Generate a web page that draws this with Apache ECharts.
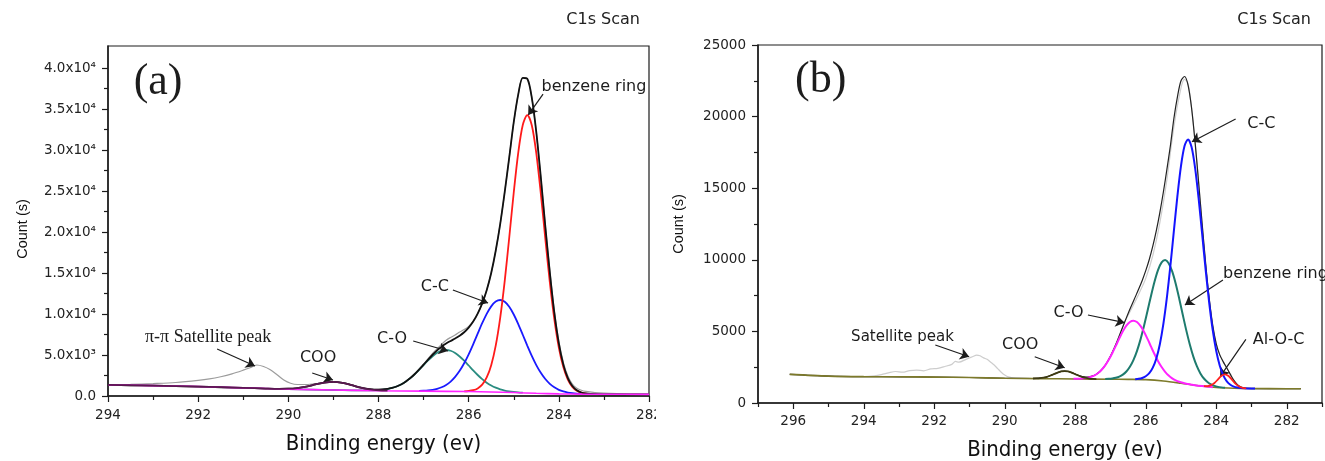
<!DOCTYPE html>
<html><head><meta charset="utf-8">
<script src="https://cdn.jsdelivr.net/npm/echarts@6/dist/echarts.min.js"></script>
<style>html,body{margin:0;padding:0;background:#fff;overflow:hidden}
#a{position:absolute;left:0;top:0;width:656px;height:461px}
#b{position:absolute;left:656px;top:0;width:669px;height:461px}</style>
</head><body><div id="a"></div><div id="b"></div>
<script>
// ---------------- Panel (a) data: [binding energy, count] ----------------
const aYTicks = [0,5000,10000,15000,20000,25000,30000,35000,40000];
const aYTickLabels = ['0.0','5.0x10³','1.0x10⁴','1.5x10⁴','2.0x10⁴','2.5x10⁴','3.0x10⁴','3.5x10⁴','4.0x10⁴'];
const aYMinor = [2500,7500,12500,17500,22500,27500,32500,37500];

const aRaw = [[294,1350],[293.5,1420],[293,1520],[292.5,1650],[292,1900],[291.75,2080],[291.5,2350],[291.25,2700],[291,3150],[290.85,3450],[290.7,3780],[290.55,3600],[290.4,3200],[290.25,2600],[290.1,1950],[289.95,1550],[289.8,1400],[289.6,1400],[289.4,1500],[289.2,1680],[289,1760],[288.8,1640],[288.6,1370],[288.4,1080],[288.2,880],[288,800],[287.8,870],[287.6,1150],[287.4,1760],[287.2,2700],[287,3900],[286.8,5200],[286.6,6300],[286.5,6800],[286.4,7150],[286.3,7450],[286.2,7800],[286.1,8100],[286,8500],[285.9,9100],[285.8,10054],[285.7,11303],[285.6,12913],[285.5,15008],[285.4,17720],[285.3,21000],[285.2,24900],[285.1,29100],[285,33400],[284.9,36800],[284.8,38800],[284.7,38700],[284.6,36400],[284.5,32200],[284.4,26700],[284.3,20800],[284.2,15300],[284.1,10400],[284,6700],[283.9,4100],[283.8,2450],[283.7,1450],[283.6,960],[283.5,700],[283.4,560],[283.2,420],[283,340],[282.7,280],[282.4,240],[282,210]];
const aBackground = [[294,1350],[293,1270],[292,1150],[291,990],[290,830],[289,730],[288,640],[287,590],[286,540],[285.5,490],[285,420],[284.5,330],[284,260],[283.5,225],[283,210],[282,200]];
const aBenzene = [[286.1,571],[286,611],[285.9,706],[285.8,928],[285.7,1388],[285.6,2259],[285.5,3765],[285.4,6137],[285.3,9564],[285.2,14052],[285.1,19333],[285,24825],[284.9,29695],[284.8,33067],[284.7,34266],[284.6,33031],[284.5,29623],[284.4,24721],[284.3,19201],[284.2,13892],[284.1,9376],[284,5921],[283.9,3528],[283.8,2005],[283.7,1117],[283.6,640],[283.5,401],[283.4,293],[283.3,245]];
const aCC = [[287.1,623],[287,644],[286.9,684],[286.8,756],[286.7,875],[286.6,1064],[286.5,1350],[286.4,1760],[286.3,2326],[286.2,3066],[286.1,3990],[286,5086],[285.9,6311],[285.8,7605],[285.7,8879],[285.6,10025],[285.5,10938],[285.4,11520],[285.3,11712],[285.2,11492],[285.1,10882],[285,9945],[284.9,8771],[284.8,7469],[284.7,6147],[284.6,4894],[284.5,3775],[284.4,2832],[284.3,2073],[284.2,1488],[284.1,1059],[284,754],[283.9,553],[283.8,422],[283.7,338],[283.6,286],[283.5,253]];
const aCO = [[290,830],[289.5,780],[289,730],[288.6,694],[288.4,676],[288.2,684],[288.1,694],[288,719],[287.9,770],[287.8,852],[287.7,977],[287.6,1159],[287.5,1410],[287.4,1739],[287.3,2151],[287.2,2641],[287.1,3190],[287,3770],[286.9,4342],[286.8,4856],[286.7,5265],[286.6,5528],[286.5,5615],[286.4,5518],[286.3,5245],[286.2,4826],[286.1,4302],[286,3720],[285.9,3125],[285.8,2561],[285.7,2056],[285.6,1629],[285.5,1285],[285.4,1015],[285.3,814],[285.2,670],[285.1,569],[285,499],[284.9,446],[284.8,408]];
const aCOO = [[294,1350],[293,1270],[292,1150],[291,990],[290.5,910],[290.2,877],[290,889],[289.8,973],[289.6,1150],[289.4,1405],[289.2,1643],[289,1730],[288.8,1605],[288.6,1329],[288.4,1036],[288.2,821],[288,699],[287.8,647]];
const aEnvelope = [[294,1350],[293.5,1310],[293,1270],[292.5,1215],[292,1150],[291.5,1070],[291,990],[290.5,910],[290.2,877],[290,889],[289.8,973],[289.6,1150],[289.4,1405],[289.2,1643],[289,1730],[288.8,1605],[288.6,1329],[288.4,1036],[288.2,845],[288,778],[287.8,869],[287.7,977],[287.6,1159],[287.5,1411],[287.4,1742],[287.3,2158],[287.2,2655],[287.1,3218],[287,3824],[286.9,4441],[286.8,5032],[286.7,5565],[286.6,6022],[286.5,6400],[286.4,6718],[286.3,7019],[286.2,7351],[286.1,7773],[286,8337],[285.9,9082],[285.8,10054],[285.7,11303],[285.6,12913],[285.5,15008],[285.4,17720],[285.3,21000],[285.2,24900],[285.1,29100],[285,33400],[284.9,36800],[284.8,38800],[284.7,38700],[284.6,36400],[284.5,32200],[284.4,26700],[284.3,20700],[284.2,15092],[284.1,10161],[284,6415],[283.9,3828],[283.8,2181],[283.7,1216],[283.6,694],[283.5,429],[283.4,307],[283.3,252],[283,210],[282.5,205],[282,200]];
const aLabels = [['(a)',292.89,38293,'serif44'],['benzene ring',283.22,37683],['C-C',286.75,13293],['C-O',287.70,6951],['COO',289.34,4634],['π-π Satellite peak',291.78,7195,'serif18']];
const aArrows = [[[284.35,36829],[284.68,34268]],[[286.35,12927],[285.57,11341]],[[287.23,6707],[286.46,5488]],[[289.47,2805],[289.01,1951]],[[291.58,5732],[290.74,3659]]];

// ---------------- Panel (b) data ----------------
const bXTicks = [282,284,286,288,290,292,294,296];
const bXMinor = [281,283,285,287,289,291,293,295,297];
const bYMinor = [2500,7500,12500,17500,22500];
const bRaw = [[296.1,2000],[295,1880],[294,1850],[293.7,1900],[293.5,1980],[293.3,2100],[293.1,2200],[292.9,2150],[292.7,2260],[292.5,2300],[292.3,2250],[292.1,2380],[291.9,2420],[291.7,2550],[291.5,2700],[291.4,2900],[291.3,2850],[291.1,3050],[290.9,3250],[290.8,3350],[290.7,3300],[290.6,3150],[290.5,3050],[290.4,2850],[290.3,2650],[290.2,2400],[290.1,2150],[290,1950],[289.9,1820],[289.7,1740],[289.4,1720],[289.2,1712],[289,1736],[288.8,1832],[288.6,2023],[288.4,2205],[288.3,2232],[288.2,2202],[288,2020],[287.8,1847],[287.6,1827],[287.4,2015],[287.2,2472],[287,3274],[286.8,4388],[286.6,5639],[286.4,6600],[286.2,7600],[286,8700],[285.8,10300],[285.6,12600],[285.4,15600],[285.2,19300],[285,22000],[284.9,22600],[284.8,22300],[284.7,20600],[284.6,18200],[284.5,15400],[284.4,12503],[284.3,9727],[284.2,7310],[284.1,5428],[284,4136],[283.9,3361],[283.8,2873],[283.7,2446],[283.6,1997],[283.5,1577],[283.4,1282],[283.2,1048],[283,1010],[282.5,1005],[282,1000],[281.6,1000]];
const bBackground = [[296.1,2000],[295,1880],[294,1840],[293,1830],[292,1810],[291,1780],[290,1730],[289,1700],[288,1680],[287,1660],[286.5,1650],[286,1630],[285.5,1540],[285,1380],[284.5,1200],[284,1080],[283.5,1030],[283,1010],[282,1000],[281.6,1000]];
const bCC = [[286.3,1663],[286.2,1688],[286.1,1746],[286,1866],[285.9,2079],[285.8,2468],[285.7,3113],[285.6,4106],[285.5,5521],[285.4,7368],[285.3,9605],[285.2,12068],[285.1,14495],[285,16561],[284.9,17943],[284.8,18408],[284.7,17871],[284.6,16417],[284.5,14283],[284.4,11800],[284.3,9281],[284.2,6988],[284.1,5085],[284,3628],[283.9,2607],[283.8,1934],[283.7,1517],[283.6,1276],[283.5,1142],[283.4,1076],[283.3,1043],[283.1,1020],[282.9,1010]];
const bBenzene = [[287.15,1675],[287.05,1687],[286.95,1711],[286.85,1757],[286.75,1839],[286.65,1978],[286.55,2198],[286.45,2528],[286.35,2997],[286.25,3627],[286.15,4427],[286.05,5377],[285.95,6425],[285.85,7493],[285.75,8486],[285.65,9295],[285.55,9820],[285.45,9984],[285.35,9763],[285.25,9188],[285.15,8329],[285.05,7286],[284.95,6166],[284.85,5071],[284.75,4081],[284.65,3241],[284.55,2571],[284.45,2068],[284.35,1711],[284.25,1465],[284.15,1300],[284.05,1192],[283.95,1127],[283.85,1091],[283.75,1067]];
const bCO = [[288.05,1687],[287.95,1692],[287.85,1702],[287.75,1724],[287.65,1762],[287.55,1829],[287.45,1934],[287.35,2094],[287.25,2321],[287.15,2627],[287.05,3015],[286.95,3476],[286.85,3987],[286.75,4512],[286.65,5001],[286.55,5400],[286.45,5660],[286.35,5748],[286.25,5652],[286.15,5385],[286.05,4980],[285.95,4478],[285.85,3933],[285.75,3402],[285.65,2921],[285.55,2513],[285.45,2180],[285.35,1919],[285.25,1725],[285.15,1586],[285.05,1485],[284.95,1411],[284.85,1351],[284.75,1303],[284.65,1260],[284.4,1180],[284.1,1105]];
const bCOO = [[289.2,1712],[289.1,1719],[289,1736],[288.9,1772],[288.8,1832],[288.7,1918],[288.6,2023],[288.5,2126],[288.4,2204],[288.3,2231],[288.2,2200],[288.1,2118],[288,2011],[287.9,1902],[287.8,1812],[287.7,1748],[287.6,1708],[287.5,1686],[287.4,1674]];
const bAlOC = [[284.35,1175],[284.25,1182],[284.15,1245],[284.05,1400],[283.95,1651],[283.85,1903],[283.75,2005],[283.65,1883],[283.55,1611],[283.45,1336],[283.35,1153],[283.25,1062],[283.15,1027]];
const bEnvelope = [[296.1,2000],[295,1880],[294,1840],[293,1830],[292,1810],[291,1780],[290,1730],[289.2,1712],[289.1,1719],[289,1736],[288.9,1772],[288.8,1832],[288.7,1918],[288.6,2023],[288.5,2126],[288.4,2205],[288.3,2232],[288.2,2202],[288.1,2122],[288,2020],[287.9,1920],[287.8,1847],[287.7,1814],[287.6,1827],[287.5,1893],[287.4,2015],[287.3,2202],[287.2,2472],[287.1,2829],[287,3274],[286.9,3800],[286.8,4388],[286.7,5010],[286.6,5639],[286.5,6249],[286.4,6826],[286.3,7393],[286.2,7957],[286.1,8560],[286,9242],[285.9,10023],[285.8,10948],[285.7,12034],[285.6,13295],[285.5,14733],[285.4,16312],[285.3,17984],[285.2,19900],[285.1,21400],[285,22500],[284.9,22800],[284.8,22200],[284.7,20600],[284.6,18200],[284.5,15400],[284.4,12503],[284.3,9727],[284.2,7310],[284.1,5428],[284,4136],[283.9,3361],[283.8,2873],[283.7,2446],[283.6,1997],[283.5,1577],[283.4,1282],[283.3,1119],[283.2,1048],[283.1,1022],[283,1010],[282.5,1005],[282,1000],[281.6,1000]];
const bLabels = [['(b)',295.22,22555,'serif44'],['C-C',282.72,19483],['benzene ring',283.82,9008,'left'],['C-O',288.19,6285],['Al-O-C',282.23,4399],['COO',289.56,4050],['Satellite peak',292.90,4609,'small']];
const bArrows = [[[283.45,19832],[284.69,18247]],[[283.81,8589],[284.89,6843]],[[287.64,6145],[286.60,5607]],[[283.16,4448],[283.89,1837]],[[289.15,3233],[288.30,2465]],[[291.97,4050],[291.01,3233]]];

// ---------------- helpers ----------------
const INK = '#1c1c1c';
const SANS = "'DejaVu Sans', sans-serif";
function line(data, color, width, z, extra){
  return Object.assign({type:'line', data:data, symbol:'none', showSymbol:false, smooth:0.3,
    lineStyle:{color:color, width:width}, itemStyle:{color:color}, z:z, silent:true, animation:false}, extra||{});
}
function labelStyle(kind){
  if(kind==='serif44') return {fontFamily:"'Liberation Serif', serif", fontSize:44};
  if(kind==='serif18') return {fontFamily:"'Liberation Serif', serif", fontSize:18};
  if(kind==='left') return {position:'right', distance:0};
  if(kind==='small') return {fontSize:15};
  return {};
}
function markers(labels, arrows){
  return {
    clip:false,
    markPoint:{symbol:'circle', symbolSize:1, itemStyle:{color:'rgba(0,0,0,0)'}, silent:true, animation:false,
      label:{show:true, position:'inside', formatter:function(p){return p.name;}, color:INK, fontFamily:SANS, fontSize:16},
      data:labels.map(function(l){return {name:l[0], coord:[l[1],l[2]], label:labelStyle(l[3])};})},
    markLine:{silent:true, animation:false, symbol:['none','arrow'], symbolSize:9, label:{show:false},
      lineStyle:{color:INK, width:1.2, type:'solid'}, itemStyle:{color:INK},
      data:arrows.map(function(a){return [{coord:a[0]},{coord:a[1]}];})}
  };
}
const axisLineStyle = {color:INK, width:1.5};
const tickStyle = {color:INK, width:1.2};
const tickLabel = {color:'#222', fontFamily:SANS, fontSize:13.5};
const xName = {color:'#111', fontFamily:"'DejaVu Sans Condensed', 'DejaVu Sans', sans-serif", fontSize:22};
const yName = {color:'#111', fontFamily:"'Liberation Sans', Arial, sans-serif", fontSize:14.5};
function plain(v){ return String(v); }

// ---------------- chart (a) ----------------
const chartA = echarts.init(document.getElementById('a'), null, {renderer:'canvas'});
chartA.setOption({
  animation:false,
  grid:{left:108, right:7, top:46, bottom:65, show:true, borderColor:INK, borderWidth:1.2, outerBoundsMode:'none', containLabel:false},
  graphic:[{type:'text', right:16, top:12, style:{text:'C1s Scan', font:"16px 'DejaVu Sans'", fill:'#222'}}],
  xAxis:[{type:'value', min:282, max:294, interval:2, inverse:true, position:'bottom',
    axisLine:{show:true, onZero:false, lineStyle:axisLineStyle},
    axisTick:{show:true, length:6, lineStyle:tickStyle},
    minorTick:{show:true, splitNumber:2, length:4, lineStyle:tickStyle},
    axisLabel:Object.assign({margin:12, formatter:plain}, tickLabel),
    splitLine:{show:false}, minorSplitLine:{show:false},
    name:'Binding energy (ev)', nameLocation:'middle', nameGap:37, nameTextStyle:Object.assign({padding:[0,0,0,10]}, xName)}],
  yAxis:[{type:'value', min:0, max:42700, interval:5000, position:'left',
    axisLine:{show:true, onZero:false, lineStyle:axisLineStyle},
    axisTick:{show:true, length:6, lineStyle:tickStyle, customValues:aYTicks},
    axisLabel:Object.assign({margin:12, customValues:aYTicks, formatter:function(v){var i=aYTicks.indexOf(v);return i<0?'':aYTickLabels[i];}}, tickLabel),
    splitLine:{show:false},
    name:'Count (s)', nameLocation:'middle', nameGap:78, nameTextStyle:Object.assign({padding:[0,0,0,-16]}, yName)},
   {type:'value', min:0, max:42700, position:'left', offset:0,
    axisLine:{show:false}, axisLabel:{show:false}, splitLine:{show:false},
    axisTick:{show:true, length:4, lineStyle:tickStyle, customValues:aYMinor}}],
  series:[
    line(aRaw, '#9c9c9c', 1.2, 2),
    line(aCO, '#2a8c80', 1.8, 3),
    line(aCC, '#1a1aff', 1.8, 4),
    line(aBenzene, '#ff1a1a', 1.8, 5),
    line(aEnvelope, '#111111', 1.8, 6, markers(aLabels, aArrows)),
    line(aBackground, '#ff22ff', 1.6, 7),
    line(aCOO, '#5a1850', 1.8, 8)
  ]
});

// ---------------- chart (b) ----------------
const chartB = echarts.init(document.getElementById('b'), null, {renderer:'canvas'});
chartB.setOption({
  animation:false,
  grid:{left:102, right:3, top:45, bottom:58, show:true, borderColor:INK, borderWidth:1.2, outerBoundsMode:'none', containLabel:false},
  graphic:[{type:'text', right:14, top:12, style:{text:'C1s Scan', font:"16px 'DejaVu Sans'", fill:'#222'}}],
  xAxis:[{type:'value', min:281, max:297, inverse:true, position:'bottom',
    axisLine:{show:true, onZero:false, lineStyle:axisLineStyle},
    axisTick:{show:true, length:6, lineStyle:tickStyle, customValues:bXTicks},
    axisLabel:Object.assign({margin:11, customValues:bXTicks, formatter:plain}, tickLabel),
    splitLine:{show:false},
    name:'Binding energy (ev)', nameLocation:'middle', nameGap:36, nameTextStyle:Object.assign({padding:[0,0,0,50]}, xName)},
   {type:'value', min:281, max:297, inverse:true, position:'bottom', offset:0,
    axisLine:{show:false}, axisLabel:{show:false}, splitLine:{show:false},
    axisTick:{show:true, length:4, lineStyle:tickStyle, customValues:bXMinor}}],
  yAxis:[{type:'value', min:0, max:25000, interval:5000, position:'left',
    axisLine:{show:true, onZero:false, lineStyle:axisLineStyle},
    axisTick:{show:true, length:6, lineStyle:tickStyle},
    axisLabel:Object.assign({margin:12, formatter:plain}, tickLabel),
    splitLine:{show:false},
    name:'Count (s)', nameLocation:'middle', nameGap:72, nameTextStyle:yName},
   {type:'value', min:0, max:25000, position:'left', offset:0,
    axisLine:{show:false}, axisLabel:{show:false}, splitLine:{show:false},
    axisTick:{show:true, length:4, lineStyle:tickStyle, customValues:bYMinor}}],
  series:[
    line(bRaw, '#cdcdcd', 1.2, 2),
    line(bEnvelope, '#222222', 1.2, 3, markers(bLabels, bArrows)),
    line(bBackground, '#7d7a2a', 1.6, 4),
    line(bBenzene, '#1e7b6e', 2, 5),
    line(bCO, '#ff22ff', 2, 6),
    line(bCOO, '#3d3a12', 1.8, 7),
    line(bCC, '#1414ff', 2, 8),
    line(bAlOC, '#ff2020', 1.8, 9)
  ]
});
</script></body></html>
